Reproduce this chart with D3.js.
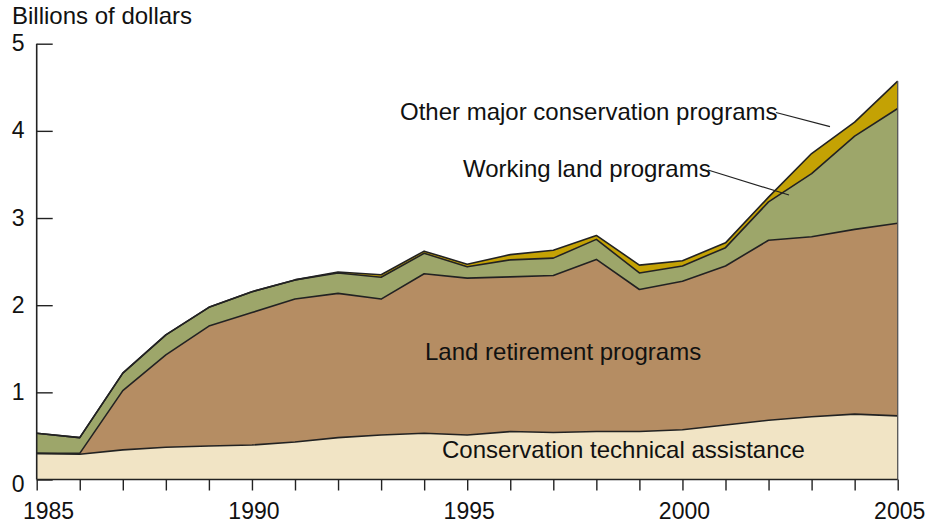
<!DOCTYPE html>
<html>
<head>
<meta charset="utf-8">
<script src="https://cdn.jsdelivr.net/npm/d3@7"></script>
<style>
  body { margin: 0; background: #fff; }
  text { font-family: "Liberation Sans", Arial, Helvetica, sans-serif; fill: #111; }
</style>
</head>
<body>
<div id="chart"></div>
<script>
// Chart data (billions of dollars)
var years = [1985, 1986, 1987, 1988, 1989, 1990, 1991, 1992, 1993, 1994, 1995,
  1996, 1997, 1998, 1999, 2000, 2001, 2002, 2003, 2004, 2005];
var techAssist = [0.30, 0.29, 0.34, 0.37, 0.385, 0.395, 0.43, 0.48, 0.51, 0.53, 0.51,
  0.55, 0.54, 0.55, 0.55, 0.57, 0.625, 0.68, 0.72, 0.75, 0.73];
var landRetirement = [0, 0.01, 0.68, 1.06, 1.375, 1.52, 1.64, 1.655, 1.56, 1.83, 1.80,
  1.775, 1.80, 1.975, 1.63, 1.705, 1.825, 2.065, 2.065, 2.12, 2.21];
var workingLand = [0.23, 0.18, 0.20, 0.23, 0.215, 0.24, 0.22, 0.235, 0.25, 0.235, 0.13,
  0.195, 0.20, 0.23, 0.19, 0.175, 0.21, 0.44, 0.725, 1.07, 1.317];
var otherPrograms = [0, 0, 0, 0, 0, 0, 0, 0.01, 0.03, 0.025, 0.03,
  0.06, 0.09, 0.045, 0.09, 0.06, 0.055, 0.055, 0.23, 0.16, 0.313];
var seriesKeys = ["cta", "land", "work", "other"];
var yTicks = [0, 1, 2, 3, 4, 5];
var xLabelYears = [1985, 1990, 1995, 2000, 2005];

var svgWidth = 926;
var svgHeight = 528;

var svg = d3.select("#chart")
  .append("svg")
  .attr("width", svgWidth)
  .attr("height", svgHeight);

// Scales
var x = d3.scaleLinear().domain([1985, 2005]).range([36.7, 897.7]);
var y = d3.scaleLinear().domain([0, 5]).range([479.5, 43.7]);

// Build table for the stack
var table = years.map(function(yr, i) {
  return { year: yr, cta: techAssist[i], land: landRetirement[i], work: workingLand[i], other: otherPrograms[i] };
});
var stacked = d3.stack().keys(seriesKeys)(table);

var colors = { cta: "#f1e4c5", land: "#b58d63", work: "#9da66a", other: "#c4a204" };

var area = d3.area()
  .x(d => x(d.data.year))
  .y0(d => y(d[0]))
  .y1(d => y(d[1]));

var topLine = d3.line()
  .x(d => x(d.data.year))
  .y(d => y(d[1]));

// Filled layers
svg.append("g").selectAll("path")
  .data(stacked)
  .enter()
  .append("path")
  .attr("d", area)
  .attr("fill", d => colors[d.key]);

// Outline of each layer's top
svg.append("g").selectAll("path")
  .data(stacked)
  .enter()
  .append("path")
  .attr("d", topLine)
  .attr("fill", "none")
  .attr("stroke", "#222")
  .attr("stroke-width", 1.6)
  .attr("stroke-linejoin", "round");

// Right edge of the stack
var lastTotal = stacked[stacked.length - 1][years.length - 1][1];
svg.append("line")
  .attr("x1", x(2005)).attr("x2", x(2005))
  .attr("y1", y(0)).attr("y2", y(lastTotal))
  .attr("stroke", "#555")
  .attr("stroke-width", 1.3);

// Y axis: ticks point into the plot
var yAxis = svg.append("g")
  .attr("transform", `translate(${x(1985)}, 0)`)
  .call(d3.axisRight(y).tickValues(yTicks).tickSize(16).tickFormat(""));
yAxis.select(".domain").attr("d", `M0,${y(5)}V${y(0)}`).attr("stroke", "#222").attr("stroke-width", 1.6);
yAxis.selectAll(".tick line").attr("stroke", "#222").attr("stroke-width", 1.4);

svg.append("g").selectAll("text")
  .data(yTicks)
  .enter()
  .append("text")
  .attr("x", 24.5)
  .attr("y", d => y(d) + (d === 0 ? 12 : 7.5))
  .attr("text-anchor", "end")
  .style("font-size", "23px")
  .text(d => d);

// X axis
var xAxis = svg.append("g")
  .attr("transform", `translate(0, ${y(0)})`)
  .call(d3.axisBottom(x).tickValues(years).tickSize(11).tickFormat(""));
xAxis.select(".domain").attr("d", `M${x(1985)},0H${x(2005)}`).attr("stroke", "#222").attr("stroke-width", 1.6);
xAxis.selectAll(".tick line").attr("stroke", "#222").attr("stroke-width", 1.4);

svg.append("g").selectAll("text")
  .data(xLabelYears)
  .enter()
  .append("text")
  .attr("x", d => d === 1985 ? 23 : x(d) + 2)
  .attr("y", 519)
  .attr("text-anchor", d => d === 1985 ? "start" : "middle")
  .style("font-size", "23px")
  .text(d => d);

// Axis title
svg.append("text")
  .attr("x", 12)
  .attr("y", 24)
  .style("font-size", "24px")
  .text("Billions of dollars");

// Series labels
svg.append("text").attr("x", 400).attr("y", 120).style("font-size", "24px")
  .text("Other major conservation programs");
svg.append("text").attr("x", 463).attr("y", 177).style("font-size", "24px")
  .text("Working land programs");
svg.append("text").attr("x", 425).attr("y", 360).style("font-size", "24px")
  .text("Land retirement programs");
svg.append("text").attr("x", 442).attr("y", 458).style("font-size", "24px")
  .text("Conservation technical assistance");

// Leader lines
svg.append("line").attr("x1", 776).attr("y1", 112.5).attr("x2", 830).attr("y2", 126.7)
  .attr("stroke", "#222").attr("stroke-width", 1.2);
svg.append("line").attr("x1", 708).attr("y1", 170).attr("x2", 789).attr("y2", 195)
  .attr("stroke", "#222").attr("stroke-width", 1.2);
</script>
</body>
</html>
